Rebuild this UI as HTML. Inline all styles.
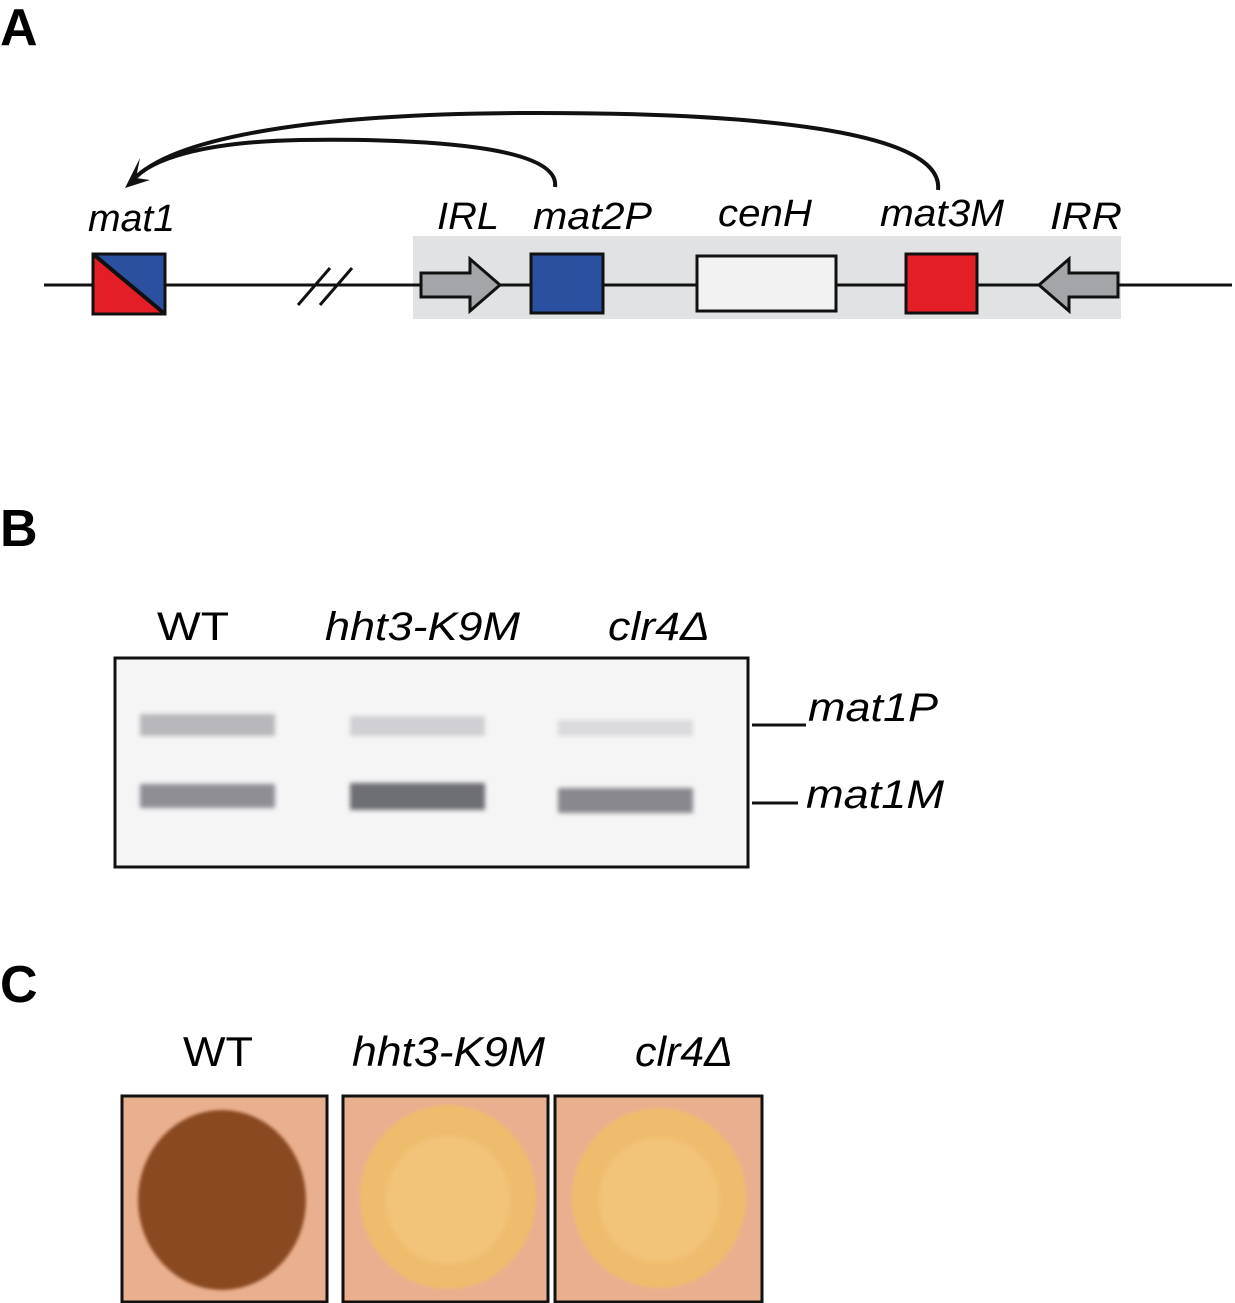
<!DOCTYPE html>
<html><head><style>
html,body{margin:0;padding:0;background:#fff;}
svg{display:block;}
text{font-family:"Liberation Sans",sans-serif;}
.it{font-style:italic;font-size:38px;}
</style></head><body>
<svg width="1235" height="1303" viewBox="0 0 1235 1303" xmlns="http://www.w3.org/2000/svg">
<defs>
<filter id="bl"><feGaussianBlur stdDeviation="2.5"/></filter>
<filter id="bl2"><feGaussianBlur stdDeviation="1.5"/></filter>
</defs>
<text x="0" y="45" font-size="52" font-weight="bold">A</text>
<text x="0" y="546" font-size="52" font-weight="bold">B</text>
<text x="0" y="1002" font-size="52" font-weight="bold">C</text>

<rect x="413" y="236" width="708" height="83" fill="#e1e2e3"/>
<line x1="44" y1="285" x2="1232" y2="285" stroke="#111" stroke-width="3"/>
<line x1="298" y1="305" x2="330" y2="268" stroke="#111" stroke-width="3"/>
<line x1="320" y1="305" x2="352" y2="268" stroke="#111" stroke-width="3"/>
<polygon points="93,254 165,254 165,314" fill="#2b50a0"/>
<polygon points="93,254 93,314 165,314" fill="#e41e26"/>
<rect x="93" y="254" width="72" height="60" fill="none" stroke="#111" stroke-width="3"/>
<line x1="93" y1="254" x2="165" y2="314" stroke="#111" stroke-width="4"/>
<polygon points="421,273 470,273 470,259 500,285 470,311 470,297 421,297" fill="#a3a5a8" stroke="#111" stroke-width="3"/>
<rect x="531" y="254" width="72" height="59" fill="#2b50a0" stroke="#111" stroke-width="3"/>
<rect x="697" y="256" width="139" height="55" fill="#f2f2f2" stroke="#111" stroke-width="3"/>
<rect x="906" y="254" width="71" height="59" fill="#e41e26" stroke="#111" stroke-width="3"/>
<polygon points="1118,273 1069,273 1069,259 1039,285 1069,311 1069,297 1118,297" fill="#a3a5a8" stroke="#111" stroke-width="3"/>
<path d="M555,187 C560,150 450,138 300,140 C200,142 150,160 133,180" fill="none" stroke="#111" stroke-width="4"/>
<path d="M938,190 C945,130 750,112 520,113 C300,114 170,140 133,180" fill="none" stroke="#111" stroke-width="4"/>
<polygon points="125,188 140,158 136,178 150,180" fill="#111"/>
<text class="it" x="88" y="231" textLength="87" lengthAdjust="spacingAndGlyphs">mat1</text>
<text class="it" x="437" y="229" textLength="62" lengthAdjust="spacingAndGlyphs">IRL</text>
<text class="it" x="533" y="229" textLength="119" lengthAdjust="spacingAndGlyphs">mat2P</text>
<text class="it" x="718" y="226" textLength="94" lengthAdjust="spacingAndGlyphs">cenH</text>
<text class="it" x="880" y="226" textLength="124" lengthAdjust="spacingAndGlyphs">mat3M</text>
<text class="it" x="1050" y="229" textLength="72" lengthAdjust="spacingAndGlyphs">IRR</text>

<text x="157" y="640" font-size="40" textLength="72" lengthAdjust="spacingAndGlyphs">WT</text>
<text class="it" x="325" y="640" style="font-size:40px" textLength="195" lengthAdjust="spacingAndGlyphs">hht3-K9M</text>
<text class="it" x="608" y="640" style="font-size:40px" textLength="102" lengthAdjust="spacingAndGlyphs">clr4Δ</text>
<rect x="115" y="658" width="633" height="209" fill="#f5f5f6" stroke="#111" stroke-width="3"/>
<g filter="url(#bl)">
<rect x="140" y="714" width="135" height="22" fill="#b8b8bc"/>
<rect x="140" y="784" width="135" height="24" fill="#8e8e94"/>
<rect x="350" y="716" width="135" height="20" fill="#d0d0d4"/>
<rect x="350" y="783" width="135" height="27" fill="#6e6e74"/>
<rect x="558" y="720" width="135" height="16" fill="#dadadd"/>
<rect x="558" y="788" width="135" height="25" fill="#88888e"/>
</g>
<line x1="752" y1="725" x2="806" y2="725" stroke="#111" stroke-width="3"/>
<line x1="752" y1="803" x2="798" y2="803" stroke="#111" stroke-width="3"/>
<text class="it" x="808" y="721" style="font-size:40px" textLength="130" lengthAdjust="spacingAndGlyphs">mat1P</text>
<text class="it" x="806" y="808" style="font-size:40px" textLength="138" lengthAdjust="spacingAndGlyphs">mat1M</text>

<text x="183" y="1066" font-size="42" textLength="70" lengthAdjust="spacingAndGlyphs">WT</text>
<text class="it" x="352" y="1066" style="font-size:42px" textLength="193" lengthAdjust="spacingAndGlyphs">hht3-K9M</text>
<text class="it" x="635" y="1066" style="font-size:42px" textLength="98" lengthAdjust="spacingAndGlyphs">clr4Δ</text>
<rect x="122" y="1096" width="205" height="206" fill="#e9b08f" stroke="#111" stroke-width="3"/>
<rect x="343" y="1096" width="205" height="206" fill="#e9b08f" stroke="#111" stroke-width="3"/>
<rect x="555" y="1096" width="207" height="206" fill="#e9b08f" stroke="#111" stroke-width="3"/>
<ellipse cx="222" cy="1200" rx="84" ry="90" fill="#8b4a22" filter="url(#bl2)"/>
<ellipse cx="448" cy="1197" rx="88" ry="92" fill="#eebc6d" filter="url(#bl2)"/>
<ellipse cx="448" cy="1200" rx="62" ry="64" fill="#f2c47a" filter="url(#bl)"/>
<ellipse cx="659" cy="1198" rx="87" ry="90" fill="#eebc6d" filter="url(#bl2)"/>
<ellipse cx="659" cy="1200" rx="60" ry="62" fill="#f2c47a" filter="url(#bl)"/>
</svg>
</body></html>
